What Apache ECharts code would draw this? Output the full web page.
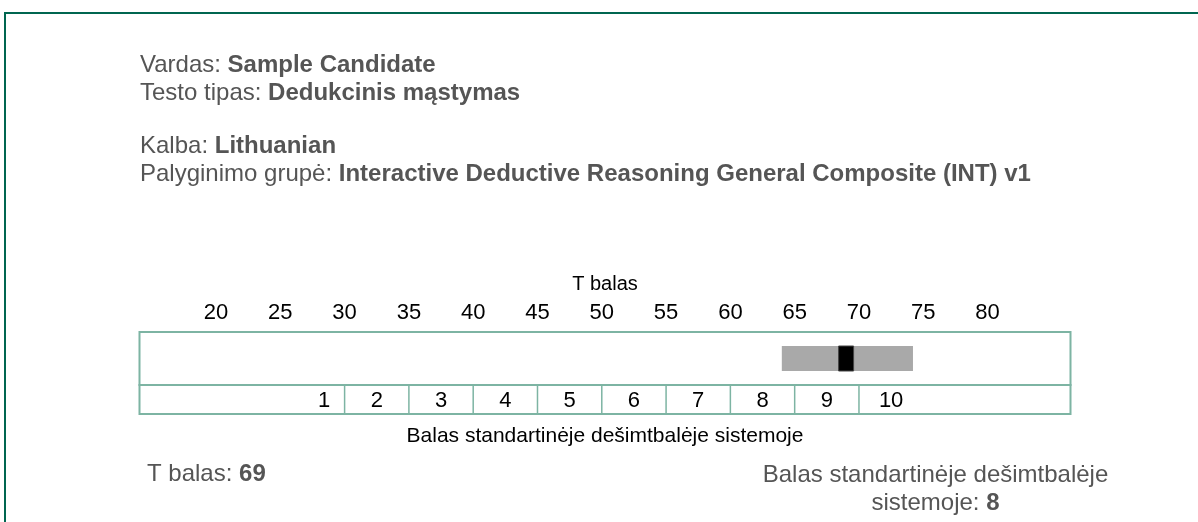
<!DOCTYPE html>
<html><head><meta charset="utf-8">
<script src="https://cdn.jsdelivr.net/npm/echarts@6/dist/echarts.min.js"></script>
<style>html,body{margin:0;padding:0;background:#fff}#c{width:1198px;height:522px}</style>
</head><body><div id="c"></div>
<script>
// ---- data ----
const candidateName = 'Sample Candidate';
const testType = 'Dedukcinis mąstymas';
const language = 'Lithuanian';
const normGroup = 'Interactive Deductive Reasoning General Composite (INT) v1';
const tScore = 69;
const tScoreBand = [64, 74.2];
const stanineScore = 8;
const tTicks = [20, 25, 30, 35, 40, 45, 50, 55, 60, 65, 70, 75, 80];
const stanineLabels = ['1', '2', '3', '4', '5', '6', '7', '8', '9', '10'];
const stanineCenters = [28.4, 32.5, 37.5, 42.5, 47.5, 52.5, 57.5, 62.5, 67.5, 72.5];
const stanineBounds = [30, 35, 40, 45, 50, 55, 60, 65, 70];
const tRange = [14.05, 86.45];
const tAxisTitle = 'T balas';
const stanineAxisTitle = 'Balas standartinėje dešimtbalėje sistemoje';

// ---- chart ----
const FONT = "'Liberation Sans', Arial, sans-serif";
const GRAY = '#555555';
const BOX = '#7db4a3';
const chart = echarts.init(document.getElementById('c'), null, {renderer: 'canvas'});

const labelRich = {
  n: {fontFamily: FONT, fontSize: 24, fill: GRAY},
  b: {fontFamily: FONT, fontSize: 24, fill: GRAY, fontWeight: 'bold'}
};
function headerText(y, label, value) {
  return {
    type: 'text', x: 140, y: y,
    style: {text: '{n|' + label + ' }{b|' + value + '}', rich: labelRich, verticalAlign: 'middle'}
  };
}

chart.setOption({
  animation: false,
  backgroundColor: '#fff',
  grid: [
    {left: 139.5, top: 332, width: 931, height: 53, show: true, borderColor: BOX, borderWidth: 2, backgroundColor: 'transparent'},
    {left: 139.5, top: 385, width: 931, height: 29, show: true, borderColor: BOX, borderWidth: 2, backgroundColor: 'transparent'}
  ],
  xAxis: [
    {
      gridIndex: 0, type: 'value', position: 'top', min: tRange[0], max: tRange[1],
      name: tAxisTitle, nameLocation: 'middle', nameGap: 38,
      nameTextStyle: {fontFamily: FONT, fontSize: 20, color: '#000'},
      axisLine: {show: false}, axisTick: {show: false}, splitLine: {show: false},
      axisLabel: {customValues: tTicks, fontFamily: FONT, fontSize: 22, color: '#000', margin: 8}
    },
    {
      gridIndex: 1, type: 'value', position: 'bottom', min: tRange[0], max: tRange[1],
      name: stanineAxisTitle, nameLocation: 'middle', nameGap: 12,
      nameTextStyle: {fontFamily: FONT, fontSize: 21, color: '#000', verticalAlign: 'top'},
      axisLine: {show: false}, axisTick: {show: false}, splitLine: {show: false},
      axisLabel: {show: false}
    }
  ],
  yAxis: [
    {gridIndex: 0, type: 'value', min: 0, max: 1, show: false},
    {gridIndex: 1, type: 'value', min: 0, max: 1, show: false}
  ],
  series: [
    {
      type: 'custom', xAxisIndex: 0, yAxisIndex: 0,
      data: [[tScoreBand[0], tScoreBand[1]]],
      renderItem: function (params, api) {
        const a = api.coord([api.value(0), 0.5]);
        const b = api.coord([api.value(1), 0.5]);
        return {type: 'rect', shape: {x: a[0], y: a[1] - 12.5, width: b[0] - a[0], height: 25},
          style: {fill: '#a9a9a9'}};
      }
    },
    {
      type: 'custom', xAxisIndex: 0, yAxisIndex: 0,
      data: [[tScore]],
      renderItem: function (params, api) {
        const c = api.coord([api.value(0), 0.5]);
        return {type: 'rect', shape: {x: c[0] - 7.5, y: c[1] - 12.5, width: 15, height: 25},
          style: {fill: '#000', stroke: '#444', lineWidth: 1}};
      }
    },
    {
      type: 'custom', xAxisIndex: 1, yAxisIndex: 1,
      data: stanineBounds.map(v => [v]),
      renderItem: function (params, api) {
        const a = api.coord([api.value(0), 0]);
        const b = api.coord([api.value(0), 1]);
        return {type: 'line', shape: {x1: a[0], y1: a[1], x2: b[0], y2: b[1]},
          style: {stroke: BOX, lineWidth: 1.5}};
      }
    },
    {
      type: 'custom', xAxisIndex: 1, yAxisIndex: 1,
      data: stanineCenters.map((v, i) => [v, stanineLabels[i]]),
      renderItem: function (params, api) {
        const c = api.coord([api.value(0), 0.5]);
        return {type: 'text', x: c[0], y: c[1] + 1,
          style: {text: stanineLabels[params.dataIndex], fontFamily: FONT, fontSize: 22, fill: '#000',
            align: 'center', verticalAlign: 'middle'}};
      }
    }
  ],
  graphic: [
    {type: 'rect', shape: {x: 4, y: 12, width: 1194, height: 2}, style: {fill: '#006650'}},
    {type: 'rect', shape: {x: 4, y: 12, width: 2, height: 510}, style: {fill: '#006650'}},
    headerText(65, 'Vardas:', candidateName),
    headerText(93, 'Testo tipas:', testType),
    headerText(146, 'Kalba:', language),
    headerText(174, 'Palyginimo grupė:', normGroup),
    {
      type: 'text', x: 147, y: 474,
      style: {text: '{n|T balas: }{b|' + tScore + '}', rich: labelRich, verticalAlign: 'middle'}
    },
    {
      type: 'text', x: 935.5, y: 489,
      style: {text: '{n|Balas standartinėje dešimtbalėje}\n{n|sistemoje: }{b|' + stanineScore + '}', rich: {
        n: {fontFamily: FONT, fontSize: 24, fill: GRAY, lineHeight: 28},
        b: {fontFamily: FONT, fontSize: 24, fill: GRAY, fontWeight: 'bold', lineHeight: 28}},
        align: 'center', verticalAlign: 'middle'}
    }
  ]
});
</script>
</body></html>
